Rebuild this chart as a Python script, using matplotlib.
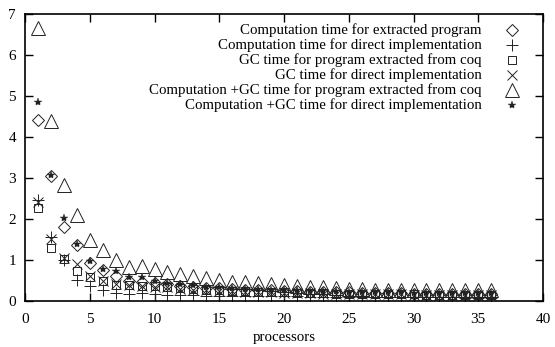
import matplotlib
matplotlib.use("Agg")
import matplotlib.pyplot as plt

processors = list(range(1, 37))

comp_coq = [4.42, 3.05, 1.80, 1.37, 0.93, 0.76, 0.61, 0.48, 0.47, 0.43, 0.41, 0.37,
            0.34, 0.32, 0.31, 0.29, 0.28, 0.27, 0.26, 0.25, 0.24, 0.23, 0.22, 0.22,
            0.21, 0.20, 0.20, 0.19, 0.19, 0.18, 0.18, 0.18, 0.17, 0.17, 0.17, 0.16]
comp_direct = [2.47, 1.57, 1.00, 0.52, 0.37, 0.26, 0.20, 0.18, 0.19, 0.16, 0.15, 0.14,
               0.14, 0.13, 0.13, 0.12, 0.12, 0.12, 0.11, 0.11, 0.11, 0.10, 0.10, 0.10,
               0.10, 0.10, 0.09, 0.09, 0.09, 0.09, 0.09, 0.09, 0.09, 0.08, 0.08, 0.08]
gc_coq = [2.27, 1.30, 1.02, 0.74, 0.58, 0.48, 0.40, 0.38, 0.37, 0.36, 0.34, 0.31,
          0.29, 0.27, 0.26, 0.25, 0.24, 0.23, 0.22, 0.21, 0.20, 0.20, 0.19, 0.18,
          0.18, 0.17, 0.17, 0.16, 0.16, 0.16, 0.15, 0.15, 0.15, 0.15, 0.14, 0.14]
gc_direct = [2.42, 1.52, 1.04, 0.90, 0.60, 0.50, 0.42, 0.38, 0.37, 0.35, 0.33, 0.30,
             0.28, 0.27, 0.25, 0.24, 0.23, 0.22, 0.21, 0.20, 0.20, 0.19, 0.18, 0.18,
             0.17, 0.17, 0.16, 0.16, 0.16, 0.15, 0.15, 0.15, 0.15, 0.14, 0.14, 0.14]
total_coq = [6.65, 4.38, 2.82, 2.10, 1.49, 1.24, 1.00, 0.83, 0.85, 0.77, 0.70, 0.66,
             0.61, 0.55, 0.51, 0.47, 0.46, 0.43, 0.41, 0.39, 0.37, 0.35, 0.33, 0.31,
             0.30, 0.29, 0.28, 0.28, 0.28, 0.28, 0.28, 0.28, 0.27, 0.27, 0.27, 0.27]
total_direct = [4.85, 3.07, 2.03, 1.38, 0.98, 0.78, 0.72, 0.58, 0.58, 0.50, 0.45, 0.42,
                0.38, 0.35, 0.33, 0.32, 0.30, 0.29, 0.28, 0.27, 0.26, 0.25, 0.24, 0.24,
                0.23, 0.22, 0.22, 0.21, 0.21, 0.20, 0.20, 0.20, 0.19, 0.19, 0.19, 0.19]

labels = ["Computation time for extracted program",
          "Computation time for direct implementation",
          "GC time for program extracted from coq",
          "GC time for direct implementation",
          "Computation +GC time for program extracted from coq",
          "Computation +GC time for direct implementation"]

xticks = [0, 5, 10, 15, 20, 25, 30, 35, 40]
yticks = [0, 1, 2, 3, 4, 5, 6, 7]

plt.rcParams['font.family'] = ['Liberation Serif', 'DejaVu Serif']

fig = plt.figure(figsize=(5.55, 3.47), dpi=100)
ax = fig.add_axes([25/555, 1-301/347, 518/555, 287/347])

col = '#222222'
styles = [
    dict(marker='D', ms=6.0, mfc='none', mec=col, mew=0.7),
    dict(marker='+', ms=9.0, mec=col, mew=0.7),
    dict(marker='s', ms=6.0, mfc='none', mec=col, mew=0.7),
    dict(marker='x', ms=6.5, mec=col, mew=0.7),
    dict(marker='^', ms=9.5, mfc='none', mec=col, mew=0.7),
    dict(marker='*', ms=6.0, mfc=col, mec=col, mew=0.3),
]
series = [comp_coq, comp_direct, gc_coq, gc_direct, total_coq, total_direct]

for s, st in zip(series, styles):
    ax.plot(processors, s, linestyle='none', **st)

# legend drawn manually (gnuplot-style: right-aligned text, marker on right)
for i, (st, lab) in enumerate(zip(styles, labels)):
    yy = 0.944 - 0.052 * i
    ax.text(0.882, yy, lab, transform=ax.transAxes, ha='right', va='center',
            fontsize=10.7, color='black')
    ax.plot([0.940], [yy], transform=ax.transAxes, linestyle='none', clip_on=False, **st)

ax.set_xlim(0, 40)
ax.set_ylim(0, 7)
ax.set_xticks(xticks)
ax.set_yticks(yticks)
ax.tick_params(direction='in', length=6, width=1.0, top=True, right=True,
               labelsize=11)
ax.tick_params(axis='x', pad=8.5)
ax.tick_params(axis='y', pad=6.5)
for sp in ax.spines.values():
    sp.set_linewidth(1.2)
ax.set_xlabel("processors", fontsize=10.7, labelpad=4)

fig.savefig("out.png", dpi=100)
